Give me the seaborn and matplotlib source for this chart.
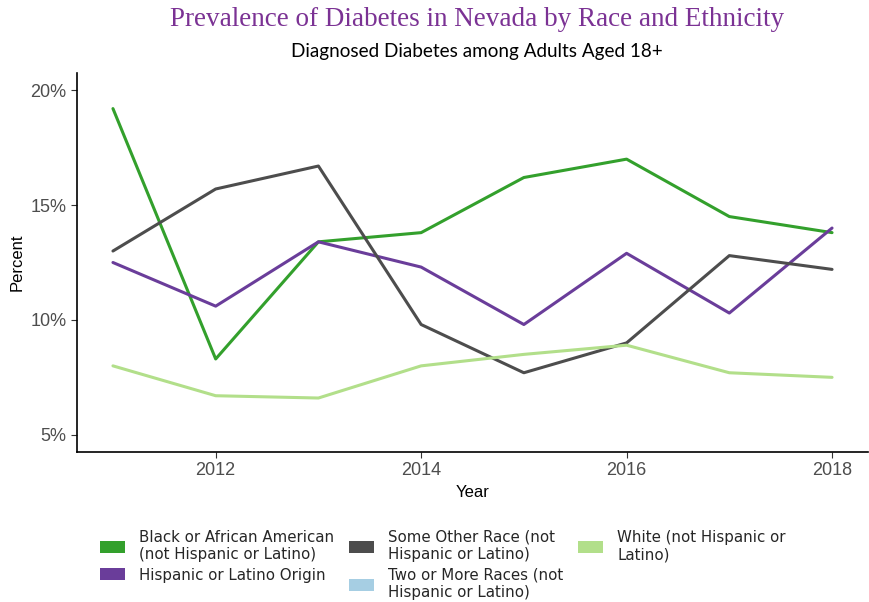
import matplotlib
matplotlib.use("Agg")
import matplotlib.pyplot as plt
from matplotlib.patches import Patch
import seaborn as sns
import pandas as pd

years = [2011, 2012, 2013, 2014, 2015, 2016, 2017, 2018]
groups = [
    "Black or African American\n(not Hispanic or Latino)",
    "Hispanic or Latino Origin",
    "Some Other Race (not\nHispanic or Latino)",
    "Two or More Races (not\nHispanic or Latino)",
    "White (not Hispanic or\nLatino)",
]
black = [19.2, 8.3, 13.4, 13.8, 16.2, 17.0, 14.5, 13.8]
hispanic = [12.5, 10.6, 13.4, 12.3, 9.8, 12.9, 10.3, 14.0]
other = [13.0, 15.7, 16.7, 9.8, 7.7, 9.0, 12.8, 12.2]
two_more = []  # no values shown
white = [8.0, 6.7, 6.6, 8.0, 8.5, 8.9, 7.7, 7.5]
colors = ["#33a02c", "#6a3d9a", "#4d4d4d", "#a6cee3", "#b2df8a"]

rows = []
for g, vals in zip(groups, [black, hispanic, other, two_more, white]):
    for y, v in zip(years, vals):
        rows.append({"Year": y, "Percent": v, "Group": g})
df = pd.DataFrame(rows)

sns.set_style("white")
plt.rcParams["font.family"] = ["Liberation Sans", "DejaVu Sans"]

fig = plt.figure(figsize=(8.7, 6.02), dpi=100)
ax = fig.add_axes([77/870, 1 - 452/602, (868-77)/870, (452-73)/602])

palette = dict(zip(groups, colors))
sns.lineplot(data=df, x="Year", y="Percent", hue="Group", hue_order=groups,
             palette=palette, linewidth=2.2, legend=False, ax=ax)

ax.set_xlim(2010.65, 2018.35)
ax.set_ylim(4.25, 20.75)
ax.set_xticks([2012, 2014, 2016, 2018])
ax.set_yticks([5, 10, 15, 20])
ax.set_yticklabels(["5%", "10%", "15%", "20%"])
ax.tick_params(axis="both", labelsize=13, colors="#4d4d4d", length=4, width=0.8,
               bottom=True, left=True, direction="out")
ax.tick_params(axis="both", color="#333333")
ax.set_xlabel("Year", fontsize=12, color="black")
ax.set_ylabel("Percent", fontsize=12, color="black")
for s in ["top", "right"]:
    ax.spines[s].set_visible(False)
for s in ["left", "bottom"]:
    ax.spines[s].set_color("black")
    ax.spines[s].set_linewidth(1.2)
ax.grid(False)

fig.text(477/870, 1 - 20/602, "Prevalence of Diabetes in Nevada by Race and Ethnicity",
         ha="center", va="center", fontsize=19.5, color="#7b3294", family="Liberation Serif")
fig.text(477/870, 1 - 52/602, "Diagnosed Diabetes among Adults Aged 18+",
         ha="center", va="center", fontsize=13.6, color="black", family="Lato")

handles = [Patch(facecolor=c, edgecolor="none") for c in colors]
fig.legend(handles, groups, ncol=3, loc="upper left", bbox_to_anchor=(100/870, 1 - 530/602),
           frameon=False, prop={"family": "DejaVu Sans", "size": 10.8}, handlelength=1.65,
           handleheight=0.85, columnspacing=1.0, labelspacing=0.35, handletextpad=0.95,
           borderaxespad=0, borderpad=0)

fig.savefig("out.png", dpi=100)
